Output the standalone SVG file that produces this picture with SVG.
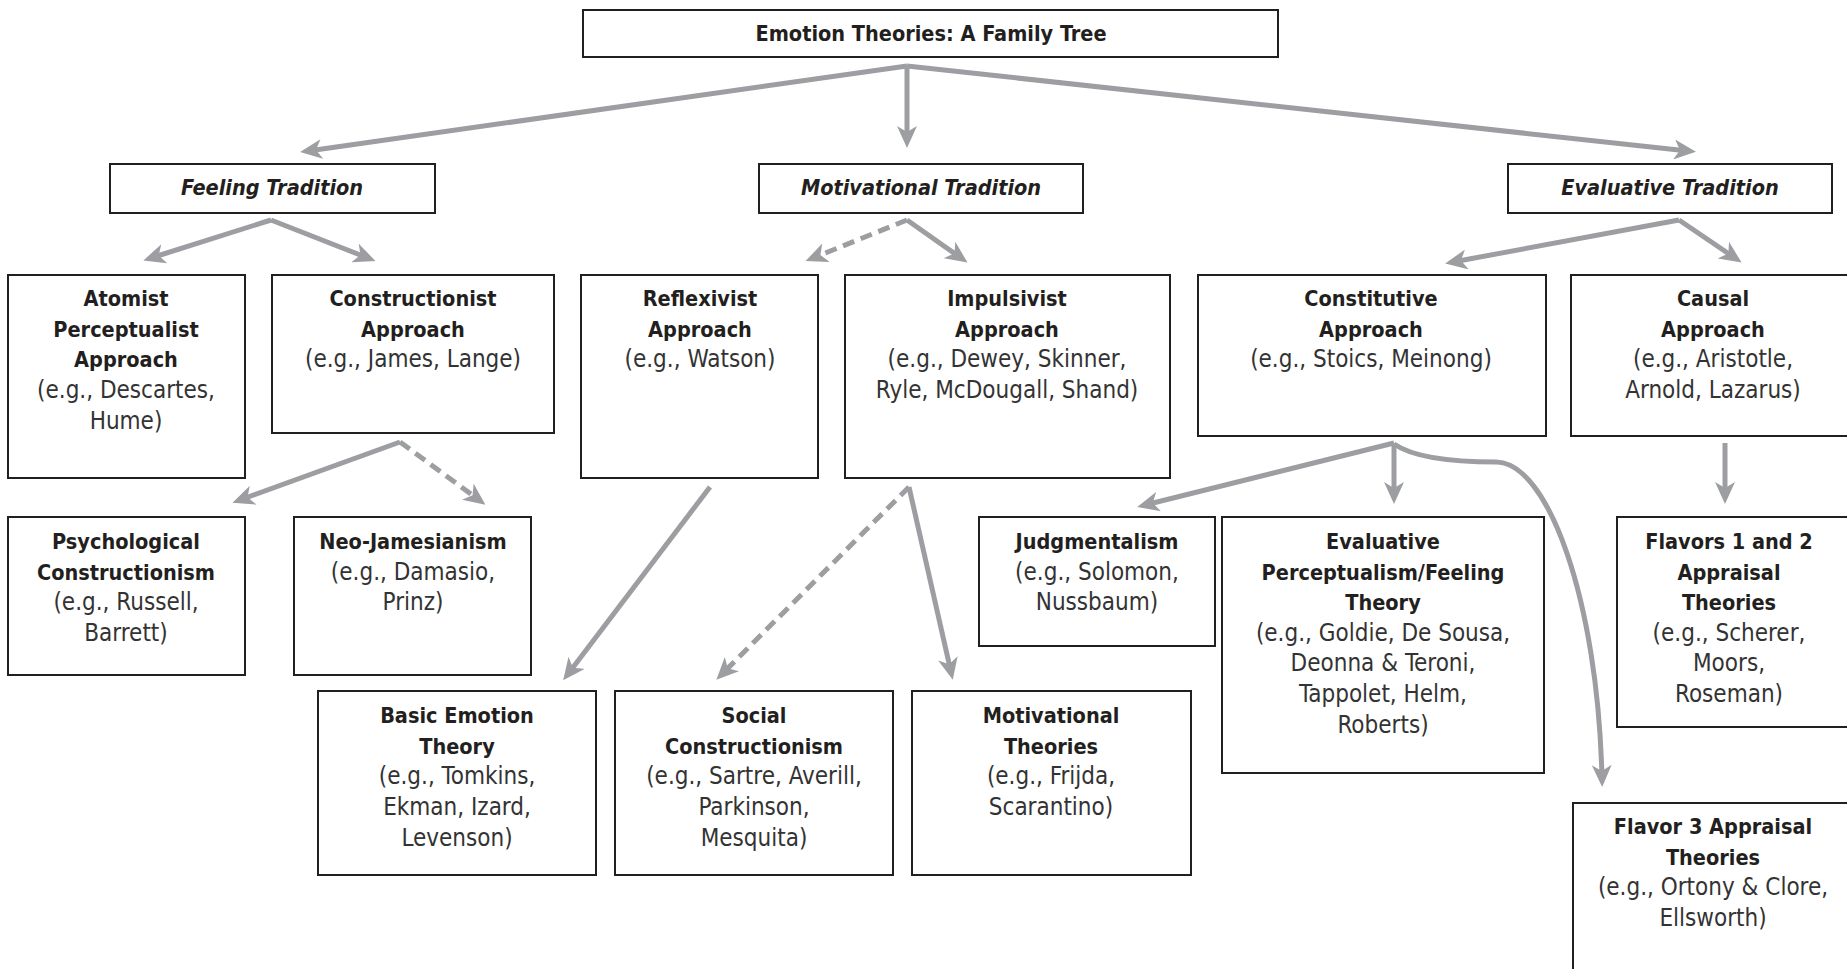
<svg xmlns="http://www.w3.org/2000/svg" width="1847" height="969" viewBox="0 0 1847 969">
<style>
.box{fill:#fff;stroke:#231f20;stroke-width:2}
.b{font-family:"Liberation Sans Narrow","DejaVu Sans Condensed","Liberation Sans",sans-serif;font-weight:bold;font-size:21.5px;fill:#231f20;text-anchor:middle}
.r{font-family:"Liberation Sans Narrow","DejaVu Sans Condensed","Liberation Sans",sans-serif;font-size:24px;fill:#333;text-anchor:middle}
.i{font-family:"Liberation Sans Narrow","DejaVu Sans Condensed","Liberation Sans",sans-serif;font-weight:bold;font-style:italic;font-size:21.5px;fill:#231f20;text-anchor:middle}
.c{fill:none;stroke:#9d9ea1;stroke-width:5;marker-end:url(#ah)}
.d{stroke-dasharray:12 7}
</style>
<defs>
<marker id="ah" viewBox="0 0 22 20" refX="14" refY="10" markerWidth="22" markerHeight="20" markerUnits="userSpaceOnUse" orient="auto">
<path d="M0,0 L22,10 L0,20 L6,10 z" fill="#9d9ea1"/>
</marker>
</defs>
<rect width="1847" height="969" fill="#fff"/>

<g id="connectors">
<path class="c" d="M907,66 L308,151"/>
<path class="c" d="M907,66 L907,140"/>
<path class="c" d="M907,66 L1688,151"/>
<path class="c" d="M271,220 L151,258"/>
<path class="c" d="M271,220 L368,258"/>
<path class="c d" d="M907,220 L813,258"/>
<path class="c" d="M907,220 L961,258"/>
<path class="c" d="M1679,220 L1453,262"/>
<path class="c" d="M1679,220 L1735,258"/>
<path class="c" d="M400,442 L240,500"/>
<path class="c d" d="M400,442 L479,500"/>
<path class="c" d="M710,487 L568,674"/>
<path class="c d" d="M909,487 L722,674"/>
<path class="c" d="M909,487 L951,672"/>
<path class="c" d="M1394,443 L1145,505"/>
<path class="c" d="M1394,443 L1394,496"/>
<path class="c" d="M1394,444 Q1420,462 1496,462 C1548,462 1598,600 1602,779"/>
<path class="c" d="M1725,443 L1725,496"/>
</g>

<g id="title"><rect class="box" x="583" y="10" width="695" height="47"/><text class="b" x="931" y="41">Emotion Theories: A Family Tree</text></g>

<g id="feeling"><rect class="box" x="110" y="164" width="325" height="49"/><text class="i" x="272" y="195">Feeling Tradition</text></g>
<g id="motivational"><rect class="box" x="759" y="164" width="324" height="49"/><text class="i" x="921" y="195">Motivational Tradition</text></g>
<g id="evaluative"><rect class="box" x="1508" y="164" width="324" height="49"/><text class="i" x="1670" y="195">Evaluative Tradition</text></g>

<g id="atomist"><rect class="box" x="8" y="275" width="237" height="203"/>
<text class="b" x="126" y="306">Atomist</text><text class="b" x="126" y="337">Perceptualist</text><text class="b" x="126" y="367">Approach</text>
<text class="r" x="126" y="398">(e.g., Descartes,</text><text class="r" x="126" y="429">Hume)</text></g>

<g id="constructionist"><rect class="box" x="272" y="275" width="282" height="158"/>
<text class="b" x="413" y="306">Constructionist</text><text class="b" x="413" y="337">Approach</text>
<text class="r" x="413" y="367">(e.g., James, Lange)</text></g>

<g id="reflexivist"><rect class="box" x="581" y="275" width="237" height="203"/>
<text class="b" x="700" y="306">Reflexivist</text><text class="b" x="700" y="337">Approach</text>
<text class="r" x="700" y="367">(e.g., Watson)</text></g>

<g id="impulsivist"><rect class="box" x="845" y="275" width="325" height="203"/>
<text class="b" x="1007" y="306">Impulsivist</text><text class="b" x="1007" y="337">Approach</text>
<text class="r" x="1007" y="367">(e.g., Dewey, Skinner,</text><text class="r" x="1007" y="398">Ryle, McDougall, Shand)</text></g>

<g id="constitutive"><rect class="box" x="1198" y="275" width="348" height="161"/>
<text class="b" x="1371" y="306">Constitutive</text><text class="b" x="1371" y="337">Approach</text>
<text class="r" x="1371" y="367">(e.g., Stoics, Meinong)</text></g>

<g id="causal"><rect class="box" x="1571" y="275" width="290" height="161"/>
<text class="b" x="1713" y="306">Causal</text><text class="b" x="1713" y="337">Approach</text>
<text class="r" x="1713" y="367">(e.g., Aristotle,</text><text class="r" x="1713" y="398">Arnold, Lazarus)</text></g>

<g id="psychconstructionism"><rect class="box" x="8" y="517" width="237" height="158"/>
<text class="b" x="126" y="549">Psychological</text><text class="b" x="126" y="580">Constructionism</text>
<text class="r" x="126" y="610">(e.g., Russell,</text><text class="r" x="126" y="641">Barrett)</text></g>

<g id="neojamesianism"><rect class="box" x="294" y="517" width="237" height="158"/>
<text class="b" x="413" y="549">Neo-Jamesianism</text>
<text class="r" x="413" y="580">(e.g., Damasio,</text><text class="r" x="413" y="610">Prinz)</text></g>

<g id="judgmentalism"><rect class="box" x="979" y="517" width="236" height="129"/>
<text class="b" x="1097" y="549">Judgmentalism</text>
<text class="r" x="1097" y="580">(e.g., Solomon,</text><text class="r" x="1097" y="610">Nussbaum)</text></g>

<g id="evalperceptualism"><rect class="box" x="1222" y="517" width="322" height="256"/>
<text class="b" x="1383" y="549">Evaluative</text><text class="b" x="1383" y="580">Perceptualism/Feeling</text><text class="b" x="1383" y="610">Theory</text>
<text class="r" x="1383" y="641">(e.g., Goldie, De Sousa,</text><text class="r" x="1383" y="671">Deonna &amp; Teroni,</text><text class="r" x="1383" y="702">Tappolet, Helm,</text><text class="r" x="1383" y="733">Roberts)</text></g>

<g id="flavors12"><rect class="box" x="1617" y="517" width="250" height="210"/>
<text class="b" x="1729" y="549">Flavors 1 and 2</text><text class="b" x="1729" y="580">Appraisal</text><text class="b" x="1729" y="610">Theories</text>
<text class="r" x="1729" y="641">(e.g., Scherer,</text><text class="r" x="1729" y="671">Moors,</text><text class="r" x="1729" y="702">Roseman)</text></g>

<g id="basicemotion"><rect class="box" x="318" y="691" width="278" height="184"/>
<text class="b" x="457" y="723">Basic Emotion</text><text class="b" x="457" y="754">Theory</text>
<text class="r" x="457" y="784">(e.g., Tomkins,</text><text class="r" x="457" y="815">Ekman, Izard,</text><text class="r" x="457" y="846">Levenson)</text></g>

<g id="socialconstructionism"><rect class="box" x="615" y="691" width="278" height="184"/>
<text class="b" x="754" y="723">Social</text><text class="b" x="754" y="754">Constructionism</text>
<text class="r" x="754" y="784">(e.g., Sartre, Averill,</text><text class="r" x="754" y="815">Parkinson,</text><text class="r" x="754" y="846">Mesquita)</text></g>

<g id="motivationaltheories"><rect class="box" x="912" y="691" width="279" height="184"/>
<text class="b" x="1051" y="723">Motivational</text><text class="b" x="1051" y="754">Theories</text>
<text class="r" x="1051" y="784">(e.g., Frijda,</text><text class="r" x="1051" y="815">Scarantino)</text></g>

<g id="flavor3"><rect class="box" x="1573" y="803" width="290" height="200"/>
<text class="b" x="1713" y="834">Flavor 3 Appraisal</text><text class="b" x="1713" y="865">Theories</text>
<text class="r" x="1713" y="895">(e.g., Ortony &amp; Clore,</text><text class="r" x="1713" y="926">Ellsworth)</text></g>
</svg>
